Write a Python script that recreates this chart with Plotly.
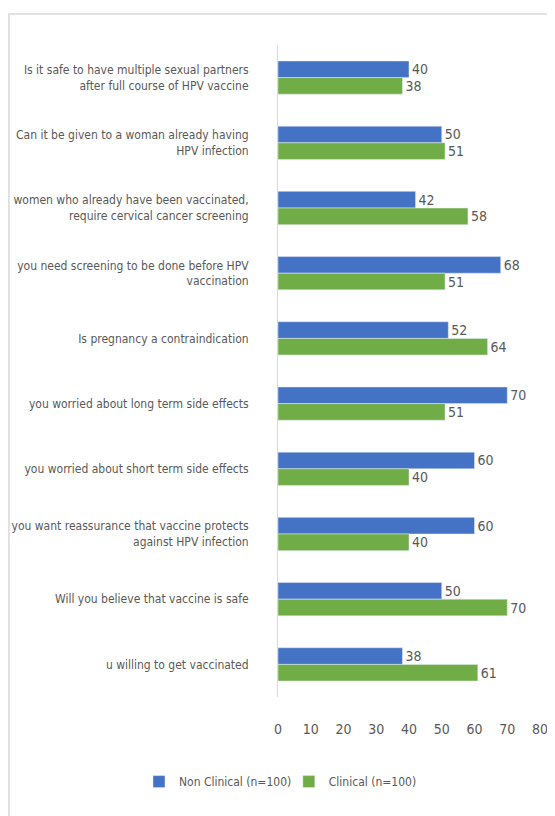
import plotly.graph_objects as go

categories = [
    "Is it safe to have multiple sexual partners<br>after full course of HPV vaccine",
    "Can it be given to a woman already having<br>HPV infection",
    "women who already have been vaccinated,<br>require cervical cancer screening",
    "you need screening to be done before HPV<br>vaccination",
    "Is pregnancy a contraindication",
    "you worried about long term side effects",
    "you worried about short term side effects",
    "you want reassurance that vaccine protects<br>against HPV infection",
    "Will you believe that vaccine is safe",
    "u willing to get vaccinated",
]
non_clinical = [40, 50, 42, 68, 52, 70, 60, 60, 50, 38]
clinical = [38, 51, 58, 51, 64, 51, 40, 40, 70, 61]
x_ticks = [0, 10, 20, 30, 40, 50, 60, 70, 80]

FONT = "DejaVu Sans Condensed, Liberation Sans Narrow, Roboto, sans-serif"
GRAY = "#595959"


def f(size):
    return dict(family=FONT, size=size, color=GRAY)


fig = go.Figure()
fig.add_trace(go.Bar(
    y=categories, x=non_clinical, orientation="h", name="Non Clinical (n=100)",
    marker_color="#4472C4", text=non_clinical, textposition="outside",
    textfont=f(14), cliponaxis=False, legend="legend",
))
fig.add_trace(go.Bar(
    y=categories, x=clinical, orientation="h", name="Clinical (n=100)",
    marker_color="#70AD47", text=clinical, textposition="outside",
    textfont=f(14), cliponaxis=False, legend="legend2",
))

leg_common = dict(orientation="h", xref="container", xanchor="left",
                  yref="container", y=0.052, yanchor="middle",
                  font=f(12), itemwidth=30, bgcolor="rgba(0,0,0,0)")

fig.update_layout(
    width=555, height=816,
    margin=dict(l=270, r=23, t=37, b=127, autoexpand=False),
    paper_bgcolor="white", plot_bgcolor="white",
    barmode="group", bargap=0.49, bargroupgap=0,
    font=f(12),
    showlegend=True,
    legend=dict(x=0.236, **leg_common),
    legend2=dict(x=0.506, **leg_common),
    shapes=[dict(type="rect", xref="paper", yref="paper", x0=-1.027, x1=1.2,
                 y0=-0.3, y1=1.0475, line=dict(color="#d9d9d9", width=1.5),
                 fillcolor="rgba(0,0,0,0)", layer="below")],
)
fig.update_xaxes(range=[0, 80], tickvals=x_ticks, showgrid=False, zeroline=False,
                 showline=False, ticks="", ticklabelstandoff=22, automargin=False,
                 tickfont=f(14))
fig.update_yaxes(autorange="reversed", showgrid=False, zeroline=False,
                 showline=True, linecolor="#d9d9d9", linewidth=1, ticks="",
                 ticklabelstandoff=26, automargin=False,
                 tickfont=f(12))

fig.write_html("out.html")
